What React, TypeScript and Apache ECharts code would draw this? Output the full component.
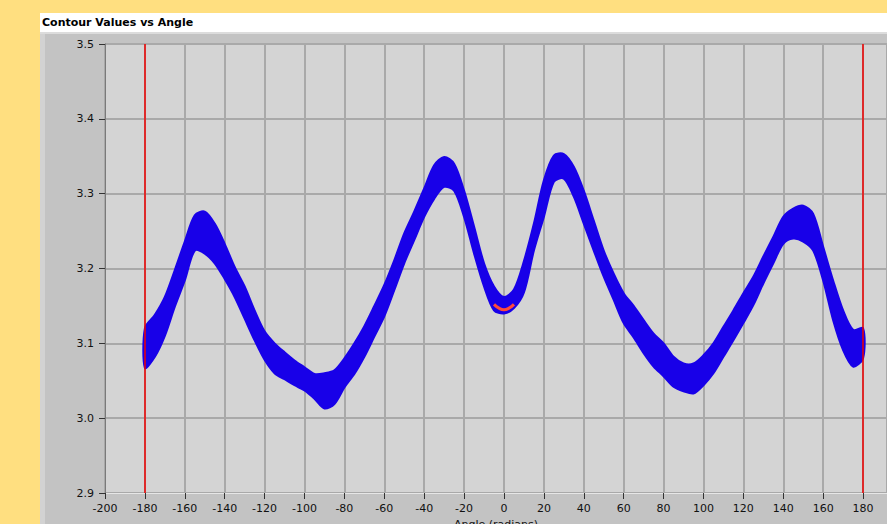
import React, { useEffect, useRef } from 'react';
import * as echarts from 'echarts';

// Angle (degrees) sampled along the contour band
const angles = [
  -180, -175, -170, -165, -160, -155, -150, -145, -140, -135, -130, -125,
  -120, -115, -110, -105, -100, -95, -90, -85, -80, -75, -70, -65,
  -60, -55, -50, -45, -40, -35, -30, -25, -20, -15, -10, -5,
  0, 5, 10, 15, 20, 25, 30, 35, 40, 45, 50, 55,
  60, 65, 70, 75, 80, 85, 90, 95, 100, 105, 110, 115,
  120, 125, 130, 135, 140, 145, 150, 155, 160, 165, 170, 175, 180,
];

// Upper envelope of the contour values
const upperValues = [
  3.120, 3.138, 3.162, 3.198, 3.236, 3.271, 3.276, 3.260, 3.233, 3.202, 3.176, 3.144,
  3.116, 3.100, 3.088, 3.077, 3.068, 3.059, 3.060, 3.064, 3.080, 3.100, 3.123, 3.150,
  3.178, 3.211, 3.247, 3.276, 3.307, 3.338, 3.349, 3.340, 3.304, 3.256, 3.207, 3.176,
  3.162, 3.172, 3.210, 3.260, 3.318, 3.351, 3.353, 3.336, 3.304, 3.264, 3.224, 3.193,
  3.167, 3.150, 3.131, 3.113, 3.100, 3.082, 3.073, 3.073, 3.084, 3.100, 3.122, 3.144,
  3.167, 3.189, 3.216, 3.242, 3.269, 3.280, 3.284, 3.273, 3.229, 3.184, 3.144, 3.118, 3.120,
];

// Lower envelope of the contour values
const lowerValues = [
  3.067, 3.082, 3.110, 3.149, 3.184, 3.224, 3.220, 3.207, 3.186, 3.162, 3.133, 3.104,
  3.078, 3.060, 3.052, 3.044, 3.037, 3.026, 3.013, 3.019, 3.041, 3.059, 3.082, 3.109,
  3.136, 3.171, 3.207, 3.238, 3.269, 3.293, 3.309, 3.304, 3.269, 3.220, 3.176, 3.144,
  3.140, 3.147, 3.168, 3.224, 3.269, 3.316, 3.320, 3.296, 3.260, 3.224, 3.189, 3.158,
  3.127, 3.108, 3.087, 3.069, 3.056, 3.042, 3.036, 3.033, 3.044, 3.060, 3.082, 3.104,
  3.127, 3.151, 3.180, 3.207, 3.233, 3.240, 3.236, 3.224, 3.184, 3.131, 3.091, 3.069, 3.080,
];

// Red highlighted points at the central minimum
const minimumArcAngles = [-5, -2.5, 0, 2.5, 5];
const minimumArcValues = [3.152, 3.147, 3.145, 3.147, 3.152];

// Red cursor lines
const markerAngles = [-180, 180];

// Axis ranges
const xMin = -200;
const xMax = 192;
const xStep = 20;
const yMin = 2.9;
const yMax = 3.5;
const yStep = 0.1;

const titleText = 'Contour Values vs Angle';
const xAxisName = 'Angle (radians)';

const BLUE = '#1800E8';
const FONT = 'DejaVu Sans';

export default function App() {
  const ref = useRef<HTMLDivElement>(null);

  useEffect(() => {
    if (!ref.current) return;
    const chart = echarts.init(ref.current, null, { renderer: 'svg' });

    const bandData = angles.map((a, i) => [a, upperValues[i], lowerValues[i]]);
    const arcData = minimumArcAngles.map((a, i) => [a, minimumArcValues[i]]);

    const renderBand = (params: any, api: any) => {
      if (params.dataIndex !== 0) return null;
      const top = angles.map((a, i) => api.coord([a, upperValues[i]]));
      const bottom = angles.map((a, i) => api.coord([a, lowerValues[i]])).reverse();
      return {
        type: 'polygon',
        shape: { points: top.concat(bottom), smooth: 0.3 },
        style: { fill: BLUE, stroke: BLUE, lineWidth: 2 },
        silent: true,
      };
    };

    chart.setOption({
      animation: false,
      backgroundColor: '#FFDF80',
      graphic: {
        elements: [
          { type: 'rect', z: -10, silent: true, shape: { x: 40, y: 34, width: 847, height: 490 }, style: { fill: '#C3C3C3' } },
          { type: 'rect', z: -9, silent: true, shape: { x: 40, y: 34, width: 5, height: 490 }, style: { fill: '#D2D2D2' } },
          { type: 'rect', z: -9, silent: true, shape: { x: 40, y: 13, width: 847, height: 19 }, style: { fill: '#FFFFFF' } },
          { type: 'rect', z: -9, silent: true, shape: { x: 40, y: 32, width: 847, height: 2 }, style: { fill: '#DCDCDC' } },
          {
            type: 'text', z: -8, silent: true, x: 42, y: 22,
            style: { text: titleText, fill: '#000000', font: `bold 11px "${FONT}"`, verticalAlign: 'middle', align: 'left' },
          },
        ],
      },
      grid: {
        left: 105,
        top: 44,
        right: 0,
        bottom: 31,
        show: true,
        backgroundColor: '#D4D4D4',
        borderColor: '#7A7A7A',
        borderWidth: 1,
        containLabel: false,
        outerBoundsMode: 'none',
      },
      xAxis: {
        type: 'value',
        min: xMin,
        max: xMax,
        interval: xStep,
        name: xAxisName,
        nameLocation: 'middle',
        nameGap: 25,
        nameTextStyle: { fontFamily: FONT, fontSize: 11, color: '#111' },
        axisLine: { show: true, onZero: false, lineStyle: { color: '#E6E6E6', width: 1 } },
        axisTick: { show: true, length: 6, lineStyle: { color: '#333', width: 1 } },
        axisLabel: {
          margin: 10,
          fontFamily: FONT,
          fontSize: 11,
          color: '#111',
          showMaxLabel: false,
          formatter: (v: number) => (Math.round(v) % xStep === 0 ? String(Math.round(v)) : ''),
        },
        splitLine: { show: true, lineStyle: { color: '#A9A9A9', width: 2 } },
      },
      yAxis: {
        type: 'value',
        min: yMin,
        max: yMax,
        interval: yStep,
        axisLine: { show: true, onZero: false, lineStyle: { color: '#7A7A7A', width: 1 } },
        axisTick: { show: true, length: 6, lineStyle: { color: '#333', width: 1 } },
        axisLabel: {
          margin: 11,
          fontFamily: FONT,
          fontSize: 11,
          color: '#111',
          formatter: (v: number) => v.toFixed(1),
        },
        splitLine: { show: true, lineStyle: { color: '#A9A9A9', width: 2 } },
      },
      series: [
        {
          name: 'markers',
          type: 'line',
          data: [],
          silent: true,
          markLine: {
            silent: true,
            symbol: 'none',
            label: { show: false },
            lineStyle: { color: '#F00000', width: 1.5, type: 'solid' },
            data: markerAngles.map((a) => ({ xAxis: a })),
          },
        },
        {
          name: 'band',
          type: 'custom',
          data: bandData,
          encode: { x: 0, y: [1, 2] },
          renderItem: renderBand,
          silent: true,
          z: 3,
        },
        {
          name: 'minimum',
          type: 'line',
          data: arcData,
          smooth: true,
          symbol: 'none',
          silent: true,
          lineStyle: { color: '#FF4A3A', width: 3 },
          z: 5,
        },
      ],
    });

    return () => chart.dispose();
  }, []);

  return (
    <div
      ref={ref}
      style={{ position: 'fixed', left: 0, top: 0, width: 887, height: 524 }}
    />
  );
}
